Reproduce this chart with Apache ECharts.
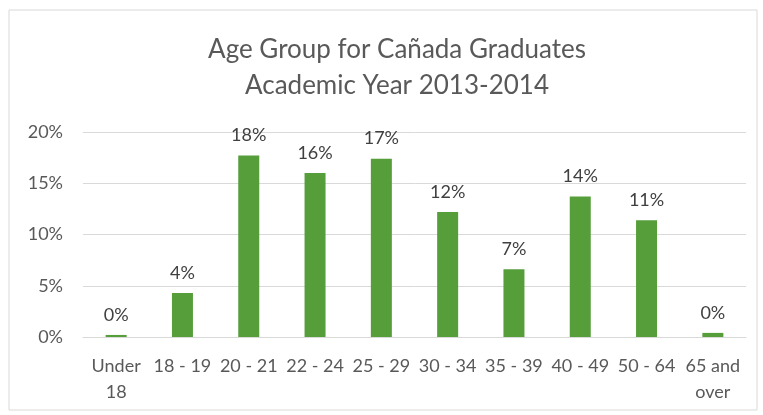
<!DOCTYPE html>
<html>
<head>
<meta charset="utf-8">
<script src="https://cdn.jsdelivr.net/npm/echarts@6/dist/echarts.min.js"></script>
<style>
    html, body { margin: 0; padding: 0; background: #fff; }
    #chart { width: 763px; height: 415px; }
</style>
</head>
<body>
<div id="chart"></div>
<script>
// 年龄组数据
var categories = ['Under\n18', '18 - 19', '20 - 21', '22 - 24', '25 - 29', '30 - 34', '35 - 39', '40 - 49', '50 - 64', '65 and\nover'];
var shares = [0.2, 4.3, 17.7, 16.0, 17.4, 12.2, 6.6, 13.7, 11.4, 0.4];
var yTicks = [0, 5, 10, 15, 20];

var chart = echarts.init(document.getElementById('chart'));
var option = {
    animation: false,
    graphic: {
        elements: [
            {
                type: 'rect',
                shape: { x: 9, y: 10, width: 748, height: 400 },
                style: { fill: 'none', stroke: '#d9d9d9', lineWidth: 1 },
                silent: true
            }
        ]
    },
    title: {
        text: 'Age Group for Cañada Graduates\nAcademic Year 2013-2014',
        left: 392,
        textAlign: 'center',
        top: 27,
        textStyle: {
            color: '#595959',
            fontFamily: 'Lato',
            fontWeight: 'normal',
            fontSize: 26,
            lineHeight: 36
        }
    },
    grid: {
        left: 83,
        right: 17,
        top: 132,
        bottom: 78
    },
    xAxis: {
        type: 'category',
        data: categories,
        axisLine: { lineStyle: { color: '#d9d9d9', width: 1 } },
        axisTick: { show: false },
        axisLabel: {
            color: '#595959',
            fontFamily: 'Lato',
            fontSize: 18,
            lineHeight: 26,
            margin: 16,
            interval: 0
        }
    },
    yAxis: {
        type: 'value',
        min: yTicks[0],
        max: yTicks[yTicks.length - 1],
        interval: 5,
        axisLine: { show: false },
        axisTick: { show: false },
        splitLine: { lineStyle: { color: '#d9d9d9', width: 1 } },
        axisLabel: {
            color: '#595959',
            fontFamily: 'Lato',
            fontSize: 18,
            margin: 20,
            formatter: '{value}%'
        }
    },
    series: [
        {
            type: 'bar',
            data: shares,
            barWidth: 21,
            itemStyle: { color: '#559e3a' },
            label: {
                show: true,
                position: 'top',
                distance: 11,
                color: '#404040',
                fontFamily: 'Lato',
                fontSize: 18,
                formatter: function (p) { return Math.round(p.value) + '%'; }
            }
        }
    ]
};
chart.setOption(option);
</script>
</body>
</html>
